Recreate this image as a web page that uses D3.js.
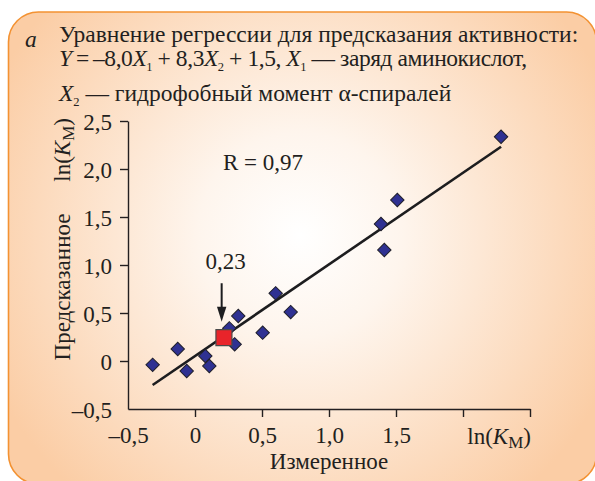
<!DOCTYPE html>
<html>
<head>
<meta charset="utf-8">
<script src="https://cdn.jsdelivr.net/npm/d3@7"></script>
<style>
  html, body { margin: 0; padding: 0; background: #ffffff; }
  svg { display: block; }
  text { font-family: "Liberation Serif", "Times New Roman", serif; fill: #231f20; }
</style>
</head>
<body>
<svg id="chart" width="595" height="481"></svg>
<script>
// ---- data ----
const measured  = [-0.316, -0.129, -0.062, 0.077, 0.107, 0.256, 0.296, 0.323, 0.505, 0.602, 0.714, 1.388, 1.413, 1.510, 2.284];
const predicted = [-0.040,  0.125, -0.104, 0.052, -0.052, 0.340, 0.174, 0.469, 0.295, 0.705, 0.510, 1.427, 1.156, 1.677, 2.336];
const highlightX = [0.216];
const highlightY = [0.243];
const highlightLabel = "0,23";
const fitX = [-0.316, 2.284];
const fitY = [-0.250, 2.232];
const rLabel = "R = 0,97";
const xTicks = [-0.5, 0, 0.5, 1.0, 1.5, 2.0, 2.5];
const xTickLabels = ["–0,5", "0", "0,5", "1,0", "1,5", "", ""];
const yTicks = [-0.5, 0, 0.5, 1.0, 1.5, 2.0, 2.5];
const yTickLabels = ["–0,5", "0", "0,5", "1,0", "1,5", "2,0", "2,5"];
const xTitle = "Измеренное";
const yTitle = "Предсказанное";
const panelLetter = "a";
const titleLine1 = [{t: "Уравнение регрессии для предсказания активности:"}];
const titleLine2 = [{t: "Y", i: true}, {t: "\u2009=\u2009–8,0"}, {t: "X", i: true}, {t: "1", sub: true},
                    {t: " + 8,3"}, {t: "X", i: true}, {t: "2", sub: true}, {t: " + 1,5, "},
                    {t: "X", i: true}, {t: "1", sub: true}, {t: " — заряд аминокислот,"}];
const titleLine3 = [{t: "X", i: true}, {t: "2", sub: true}, {t: " — гидрофобный момент α-спиралей"}];
const unitLabel = [{t: "ln("}, {t: "K", i: true}, {t: "M", sub: true}, {t: ")"}];

// ---- setup ----
const svg = d3.select("#chart");
const FS = 23;
const TFS = 23.5;

const defs = svg.append("defs");
const grad = defs.append("radialGradient").attr("id", "bg")
  .attr("gradientUnits", "userSpaceOnUse")
  .attr("cx", 300).attr("cy", 235).attr("r", 340);
grad.append("stop").attr("offset", "0%").attr("stop-color", "#ffffff");
grad.append("stop").attr("offset", "30%").attr("stop-color", "#fef5ed");
grad.append("stop").attr("offset", "100%").attr("stop-color", "#fbcda5");

svg.append("rect")
  .attr("x", 8.5).attr("y", 12).attr("width", 588).attr("height", 472)
  .attr("rx", 30).attr("ry", 30)
  .attr("fill", "url(#bg)")
  .attr("stroke", "#f39232").attr("stroke-width", 1.6);

const x = d3.scaleLinear().domain([-0.5, 2.5]).range([128, 530]);
const y = d3.scaleLinear().domain([-0.5, 2.5]).range([409, 121]);

function rich(sel, parts, subSize, subShift) {
  parts.forEach((p, k) => {
    const ts = sel.append("tspan").text(p.t);
    if (p.i) ts.attr("font-style", "italic");
    if (p.sub) {
      ts.attr("font-size", subSize).attr("dy", subShift);
    } else if (k > 0 && parts[k - 1].sub) {
      ts.attr("dy", -subShift);
    }
  });
}

// ---- title ----
svg.append("text").attr("x", 25).attr("y", 47).attr("font-size", TFS)
  .attr("font-style", "italic").text(panelLetter);
const t1 = svg.append("text").attr("x", 59).attr("y", 42).attr("font-size", TFS);
rich(t1, titleLine1, 12.5, 5);
const t2 = svg.append("text").attr("x", 59).attr("y", 66).attr("font-size", TFS)
  .attr("textLength", 468).attr("lengthAdjust", "spacing");
rich(t2, titleLine2, 12.5, 5);
const t3 = svg.append("text").attr("x", 59).attr("y", 101).attr("font-size", TFS);
rich(t3, titleLine3, 12.5, 5);

// ---- axes ----
const gx = svg.append("g").attr("transform", `translate(0,${y(-0.5)})`)
  .call(d3.axisBottom(x).tickValues(xTicks).tickSize(8).tickSizeOuter(0)
    .tickFormat((d, i) => xTickLabels[i]));
const gy = svg.append("g").attr("transform", `translate(${x(-0.5)},0)`)
  .call(d3.axisLeft(y).tickValues(yTicks).tickSize(8).tickSizeOuter(0)
    .tickFormat((d, i) => yTickLabels[i]));

[gx, gy].forEach(g => {
  g.selectAll("path.domain").attr("stroke", "#231f20").attr("stroke-width", 1.4);
  g.selectAll(".tick line").attr("stroke", "#231f20").attr("stroke-width", 1.4);
  g.selectAll(".tick text").attr("font-family", "Liberation Serif, Times New Roman, serif")
    .attr("font-size", FS).attr("fill", "#231f20");
});
gx.selectAll(".tick").filter(d => d === -0.5).select("line").remove();
gy.selectAll(".tick").filter(d => d === -0.5).select("line").remove();
gx.selectAll(".tick text").attr("y", 18).attr("dy", "0.71em");
gy.selectAll(".tick text").attr("x", -16).attr("dy", "0.35em");

// unit label on x axis (right-aligned at the last tick)
const ux = svg.append("text").attr("x", x(2.5) + 1).attr("y", y(-0.5) + 35)
  .attr("font-size", FS).attr("text-anchor", "end");
rich(ux, unitLabel, 17, 4);

// axis titles
svg.append("text").attr("x", x(1.0)).attr("y", 469).attr("font-size", FS)
  .attr("text-anchor", "middle").text(xTitle);
svg.append("text").attr("transform", `translate(70,${(y(2.5) + y(-0.5)) / 2 + 22}) rotate(-90)`)
  .attr("font-size", FS).attr("text-anchor", "middle").text(yTitle);
const uy = svg.append("text").attr("transform", `translate(70,${y(2.5) - 3}) rotate(-90)`)
  .attr("font-size", FS).attr("text-anchor", "end");
rich(uy, unitLabel, 17, 4);

// ---- regression line ----
svg.append("line")
  .attr("x1", x(fitX[0])).attr("y1", y(fitY[0]))
  .attr("x2", x(fitX[1])).attr("y2", y(fitY[1]))
  .attr("stroke", "#1d1d1f").attr("stroke-width", 2.6);

// ---- points ----
const pts = measured.map((m, i) => ({m, p: predicted[i]}));
const diamond = d3.symbol().type(d3.symbolSquare).size(90);
svg.append("g").selectAll("path").data(pts).join("path")
  .attr("d", diamond)
  .attr("transform", d => `translate(${x(d.m)},${y(d.p)}) rotate(45)`)
  .attr("fill", "#2f3192").attr("stroke", "#1f1f2a").attr("stroke-width", 1);

const hl = highlightX.map((m, i) => ({m, p: highlightY[i]}));
const sq = d3.symbol().type(d3.symbolSquare).size(256);
svg.append("g").selectAll("path").data(hl).join("path")
  .attr("d", sq)
  .attr("transform", d => `translate(${x(d.m)},${y(d.p)})`)
  .attr("fill", "#e8242a").attr("stroke", "#4a4a4a").attr("stroke-width", 1.2);

// ---- annotations ----
svg.append("text").attr("x", x(0.507)).attr("y", y(1.99)).attr("font-size", FS)
  .attr("text-anchor", "middle").text(rLabel);
svg.append("text").attr("x", x(0.229)).attr("y", y(0.955)).attr("font-size", FS)
  .attr("text-anchor", "middle").text(highlightLabel);

const ax = x(0.199), ay1 = y(0.81), ay2 = y(0.41);
svg.append("line").attr("x1", ax).attr("y1", ay1).attr("x2", ax).attr("y2", ay2 - 12)
  .attr("stroke", "#1d1d1f").attr("stroke-width", 2);
svg.append("path")
  .attr("d", d3.line()([[ax - 4.7, ay2 - 15], [ax + 4.7, ay2 - 15], [ax, ay2]]) + "Z")
  .attr("fill", "#1d1d1f");
</script>
</body>
</html>
